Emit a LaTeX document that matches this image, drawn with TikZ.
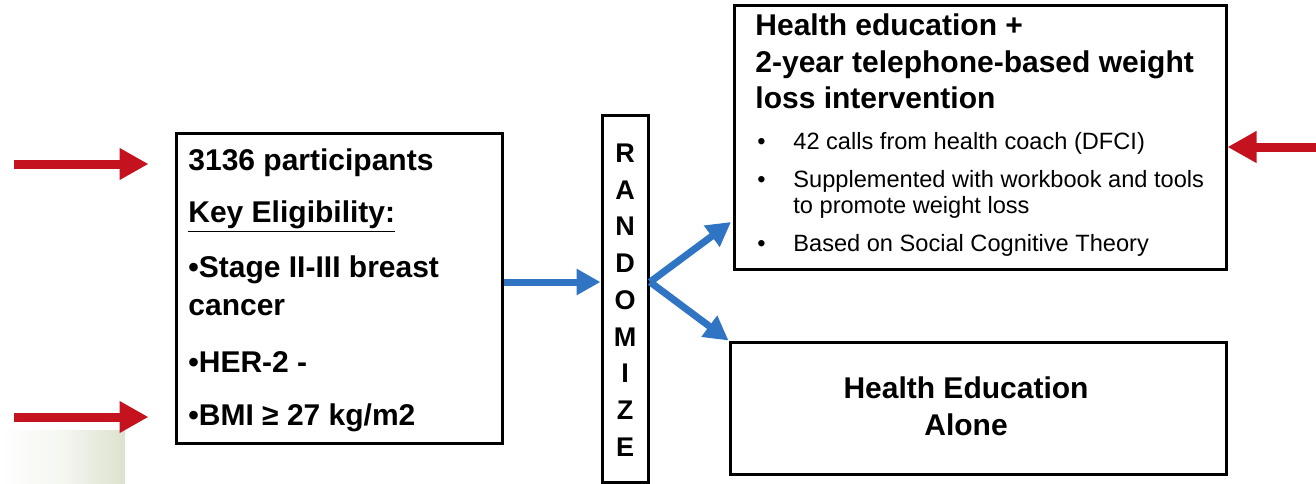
\documentclass[tikz,border=0pt]{standalone}
\usepackage{fontspec}
\setmainfont{Liberation Sans}
\usetikzlibrary{
    arrows.meta, % for the triangle tips
    calc,        % to set the red tips off the box
    positioning
}
\definecolor{arrowred}{RGB}{196,18,30}
\definecolor{arrowblue}{RGB}{47,117,196}
\definecolor{paleleaf}{RGB}{220,226,206}

\begin{document}
\begin{tikzpicture}[
    x=0.5pt,y=-0.5pt,
    study box/.style  = {draw,line width=1.5pt,inner sep=0pt},
    line/.style       = {inner sep=0pt,anchor=base west,font=\fontsize{15}{18}\selectfont\bfseries},
    item/.style       = {inner sep=0pt,anchor=base west,font=\fontsize{11.8}{14}\selectfont},
    letter/.style     = {inner sep=0pt,font=\fontsize{13.5}{15}\selectfont\bfseries},
    red arrow/.style  = {arrowred,line width=4.5pt,-{Triangle[length=14.5pt,width=15pt]}},
    blue arrow/.style = {arrowblue,line width=3.5pt,-{Triangle[length=12pt,width=12.5pt]}}
]
    \useasboundingbox (0,0) rectangle (1316,483);

% faint backdrop in the corner
    \shade[left color=white,right color=paleleaf,middle color=white!70!paleleaf] (0,430) rectangle (125,483);

% the four boxes
    \node [study box,minimum width=163pt,minimum height=155pt]  (elig)  at (339,288)   {};
    \node [study box,minimum width=23pt,minimum height=183.5pt] (rand)  at (625,298.5) {};
    \node [study box,minimum width=246pt,minimum height=132pt]  (inter) at (980,137)   {};
    \node [study box,minimum width=248pt,minimum height=66pt]   (alone) at (978,408)   {};

% eligibility
    \node [line] (total)  at (188,170) {3136 participants};
    \node [line] (key)    at (188,222) {\underline{Key Eligibility:}};
    \node [line] (stage)  at (188,277) {•Stage II-III breast};
    \node [line] (cancer) at (188,315) {cancer};
    \node [line] (her)    at (188,372) {•HER-2 -};
    \node [line] (bmi)    at (188,425) {•BMI ≥ 27 kg/m2};

% randomize, one letter a row
    \foreach \c [count=\i from 0] in {R,A,N,D,O,M,I,Z,E}
        \node [letter] (rand\i) at (625,{153+36.75*\i}) {\c};

% intervention arm
    \node [line] (title1) at (755,35)  {Health education +};
    \node [line] (title2) at (755,72)  {2-year telephone-based weight};
    \node [line] (title3) at (755,108) {loss intervention};
    \foreach \y/\n in {149/dot1,187/dot2,251/dot3}
        \node [item] (\n) at (757,\y) {•};
    \node [item] (calls)   at (793,149) {42 calls from health coach (DFCI)};
    \node [item] (book)    at (793,187) {Supplemented with workbook and tools};
    \node [item] (book2)   at (793,213) {to promote weight loss};
    \node [item] (theory)  at (793,251) {Based on Social Cognitive Theory};

% control arm
    \node [line,anchor=base] (ctrl1) at (966,398) {Health Education};
    \node [line,anchor=base] (ctrl2) at (966,435) {Alone};

% red pointers
    \coordinate (tail1) at (14,164);
    \coordinate (tail2) at (14,417);
    \coordinate (tail3) at (1316,147);
    \draw [red arrow] (tail1) -- ($(elig.west |- tail1)+(-26,0)$);
    \draw [red arrow] (tail2) -- ($(elig.west |- tail2)+(-26,0)$);
    \draw [red arrow] (tail3) -- (inter.east |- tail3);

% blue flow
    \coordinate (fork)  at (650,282);
    \coordinate (upper) at (731,222);
    \draw [blue arrow] (elig.east |- fork) -- (rand.west |- fork);
    \draw [blue arrow] (fork) -- (upper);
    \draw [blue arrow] (fork) -- (alone.north west);

\end{tikzpicture}
\end{document}
